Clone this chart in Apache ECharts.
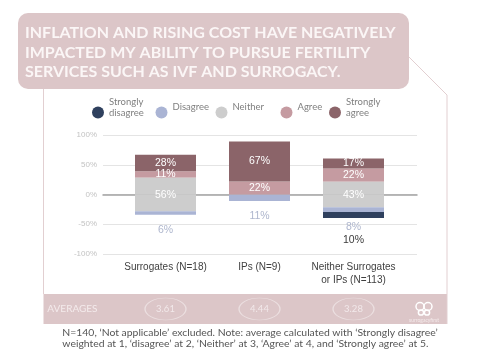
<!DOCTYPE html>
<html><head><meta charset="utf-8">
<script src="https://cdn.jsdelivr.net/npm/echarts@6/dist/echarts.min.js"></script>
<style>html,body{margin:0;padding:0;background:#fff}#c{width:500px;height:350px}</style>
</head><body><div id="c"></div>
<script>
const categories = ['Surrogates (N=18)', 'IPs (N=9)', 'Neither Surrogates\nor IPs (N=113)'];
const seriesNames = ['Strongly disagree', 'Disagree', 'Neither', 'Agree', 'Strongly agree'];
const stronglyDisagree = [0, 0, 10];
const disagree = [6, 11, 8];
const neither = [56, 0, 43];
const agree = [11, 22, 22];
const stronglyAgree = [28, 67, 17];
const averages = ['3.61', '4.44', '3.28'];
const yMin = -100, yMax = 100, yStep = 50;
const titleText = 'INFLATION AND RISING COST HAVE NEGATIVELY\nIMPACTED MY ABILITY TO PURSUE FERTILITY\nSERVICES SUCH AS IVF AND SURROGACY.';
const footnoteText = 'N=140, \u2018Not applicable\u2019 excluded. Note: average calculated with \u2018Strongly disagree\u2019\nweighted at 1, \u2018disagree\u2019 at 2, \u2018Neither\u2019 at 3, \u2018Agree\u2019 at 4, and \u2018Strongly agree\u2019 at 5.';

const COL = {
  'Strongly disagree': '#2f405e',
  'Disagree': '#aab4d4',
  'Neither': '#cdcdcd',
  'Agree': '#c59ba1',
  'Strongly agree': '#8b6469'
};
const PINK = '#dcc6c8';
const GEO = 'Lato, "Open Sans", sans-serif';
const ARIAL = '"Liberation Sans", Arial, sans-serif';

const pct = v => v ? Math.abs(v) + '%' : '';
const insideLabel = {show: true, position: 'inside', color: '#fff', fontSize: 10.5, fontFamily: ARIAL, formatter: p => pct(p.value)};
const barBase = {type: 'bar', stack: 'a', xAxisIndex: 1, yAxisIndex: 1, barWidth: 61};

const chart = echarts.init(document.getElementById('c'), null, {renderer: 'canvas'});

const legendPos = [92, 155.5, 215.5, 280.5, 329];
const legendIcons = seriesNames.map((n, i) => ({
  data: [n], left: legendPos[i], top: 106.5, padding: 0,
  itemWidth: 12, itemHeight: 12, icon: 'circle', itemGap: 0, selectedMode: false,
  formatter: () => '',
  textStyle: {fontSize: 9}
}));
const legendTexts = seriesNames.map((n, i) => {
  const twoLine = n.indexOf(' ') >= 0;
  return {
    data: [n], left: legendPos[i], top: twoLine ? 97 : 102, padding: 0,
    itemWidth: 12, itemHeight: 10, icon: 'none', itemGap: 0, selectedMode: false,
    formatter: name => name.replace(' ', '\n'),
    textStyle: {color: '#7f7f7f', fontSize: 9.5, fontFamily: GEO, lineHeight: 10.5}
  };
});

const option = {
  animation: false,
  legend: legendIcons.concat(legendTexts),
  grid: [
    {left: 103, width: 314, top: 135, height: 119},
    {left: 118.5, width: 282, top: 135, height: 119},
    {left: 118.5, width: 282, top: 294, height: 30}
  ],
  xAxis: [
    {gridIndex: 0, type: 'category', data: categories, axisLine: {show: true, onZero: true, lineStyle: {color: '#a3a3a3', width: 1.5}}, axisTick: {show: false}, axisLabel: {show: false}},
    {gridIndex: 1, type: 'category', data: categories, axisLine: {show: false}, axisTick: {show: false},
      axisLabel: {interval: 0, color: '#3f3f3f', fontSize: 10, fontFamily: ARIAL, margin: 7, lineHeight: 13}},
    {gridIndex: 2, type: 'category', data: categories, show: false}
  ],
  yAxis: [
    {gridIndex: 0, type: 'value', min: yMin, max: yMax, interval: yStep, axisLine: {show: false}, axisTick: {show: false},
      axisLabel: {formatter: '{value}%', color: '#c3c3c3', fontSize: 8, fontFamily: ARIAL, margin: 6},
      splitLine: {lineStyle: {color: '#e4e4e4', width: 1}}},
    {gridIndex: 1, type: 'value', min: yMin, max: yMax, interval: yStep, show: false},
    {gridIndex: 2, type: 'category', data: ['AVERAGES'], axisLine: {show: false}, axisTick: {show: false}, splitLine: {show: false},
      axisLabel: {color: '#f4ebec', fontSize: 10, fontFamily: GEO, margin: 21}}
  ],
  series: [
    {type: 'line', xAxisIndex: 0, yAxisIndex: 0, data: [], silent: true},
    Object.assign({}, barBase, {name: 'Neither', data: neither.map(v => v / 2), itemStyle: {color: COL['Neither']},
      label: {show: true, position: 'bottom', distance: -5, color: '#fff', fontSize: 10.5, fontFamily: ARIAL, formatter: p => pct(neither[p.dataIndex])}, z: 3}),
    Object.assign({}, barBase, {name: 'Neither', data: neither.map(v => -v / 2), itemStyle: {color: COL['Neither']}, label: {show: false}, z: 2}),
    Object.assign({}, barBase, {name: 'Disagree', data: disagree.map(v => -v), itemStyle: {color: COL['Disagree']},
      label: {show: true, position: 'bottom', distance: 10, color: '#aeb6cd', fontSize: 10.5, fontFamily: ARIAL, formatter: p => pct(p.value)}}),
    Object.assign({}, barBase, {name: 'Strongly disagree', data: stronglyDisagree.map(v => -v), itemStyle: {color: COL['Strongly disagree']},
      label: {show: true, position: 'bottom', distance: 17, color: '#3a3a3a', fontSize: 10.5, fontFamily: ARIAL, formatter: p => pct(p.value)}}),
    Object.assign({}, barBase, {name: 'Agree', data: agree, itemStyle: {color: COL['Agree']}, label: insideLabel}),
    Object.assign({}, barBase, {name: 'Strongly agree', data: stronglyAgree, itemStyle: {color: COL['Strongly agree']}, label: insideLabel}),
    {type: 'scatter', xAxisIndex: 2, yAxisIndex: 2, symbol: 'circle', symbolSize: [41, 22],
      data: averages.map((a, i) => [categories[i], 'AVERAGES', a]),
      itemStyle: {color: 'rgba(255,255,255,0)', borderColor: 'rgba(255,255,255,0.55)', borderWidth: 1},
      label: {show: true, position: 'inside', color: '#f8f1f2', fontSize: 9.5, fontFamily: GEO, formatter: p => p.value[2]}}
  ],
  graphic: [
    {type: 'rect', z: -10, shape: {x: 43.5, y: 294, width: 403.5, height: 30}, style: {fill: PINK}},
    {type: 'polyline', z: -5, shape: {points: [[43.5, 89], [43.5, 294]]}, style: {stroke: '#e2cfd1', lineWidth: 1, fill: null}},
    {type: 'polyline', z: -5, shape: {points: [[405, 53], [447, 95], [447, 324]]}, style: {stroke: '#e2cfd1', lineWidth: 1, fill: null}},
    {type: 'rect', z: 10, shape: {x: 18, y: 13, width: 391, height: 76, r: 10}, style: {fill: PINK}},
    {type: 'text', z: 11, left: 25, top: 23, style: {text: titleText, fill: '#fbf6f6', font: 'bold 16px ' + GEO, lineHeight: 19.7}},
    {type: 'text', z: 11, left: 'center', top: 326.5, style: {text: footnoteText, fill: '#555', font: '10.4px ' + GEO, lineHeight: 11.5, align: 'center'}},
    {type: 'group', z: 11, left: 409, top: 300, children: [
      {type: 'circle', shape: {cx: 6, cy: 5, r: 4}, style: {fill: null, stroke: '#fff', lineWidth: 1.5}},
      {type: 'circle', shape: {cx: 14, cy: 5, r: 4}, style: {fill: null, stroke: '#fff', lineWidth: 1.5}},
      {type: 'circle', shape: {cx: 7, cy: 11, r: 2.6}, style: {fill: null, stroke: '#fff', lineWidth: 1.5}},
      {type: 'circle', shape: {cx: 13, cy: 11, r: 2.6}, style: {fill: null, stroke: '#fff', lineWidth: 1.5}},
      {type: 'text', x: 10, y: 16, style: {text: 'surrogacyfirst', fill: '#f4eaeb', font: '5px ' + GEO, align: 'center'}}
    ]}
  ]
};
chart.setOption(option);
</script>
</body></html>
